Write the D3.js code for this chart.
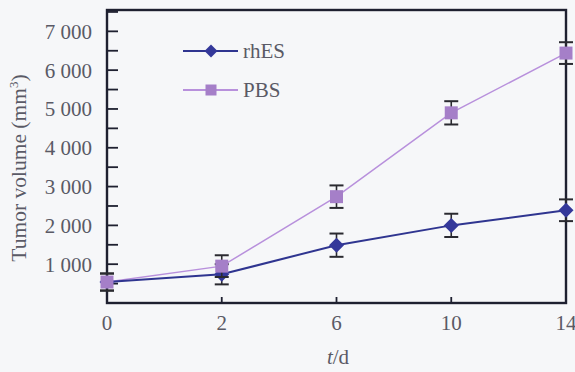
<!DOCTYPE html>
<html><head><meta charset="utf-8">
<script src="https://cdn.jsdelivr.net/npm/d3@7"></script>
<style>html,body{margin:0;padding:0;background:#f6f7f9;}svg{display:block;}</style>
</head><body>
<svg id="c" width="575" height="372"></svg>
<script>
const days = ["0","2","6","10","14"];
const rhES = [540, 740, 1490, 2000, 2390];
const rhESErr = [220, 260, 300, 300, 280];
const pbs = [540, 950, 2740, 4900, 6440];
const pbsErr = [220, 280, 290, 300, 280];
const yTickLabels = [1000,2000,3000,4000,5000,6000,7000];

const svg = d3.select("#c");
const L=107, R=566, T=10, B=303;
const x = d3.scalePoint().domain(days).range([L,R]).padding(0);
const y = d3.scaleLinear().domain([0,7550]).range([B,T]);
const frame="#1e2030", txt="#5a5a66";
const font="Liberation Serif, DejaVu Serif, serif";
const fs=21;

// y ticks (inward)
const yt = d3.range(500, 7501, 500);
svg.append("g").selectAll("line").data(yt).join("line")
  .attr("x1",L).attr("x2",L+11).attr("y1",d=>y(d)).attr("y2",d=>y(d))
  .attr("stroke",frame).attr("stroke-width",1.8);
svg.append("g").selectAll("text").data(yTickLabels).join("text")
  .attr("x",92).attr("y",d=>y(d)).attr("dy","0.35em").attr("text-anchor","end")
  .attr("font-family",font).attr("font-size",fs).attr("fill",txt)
  .text(d=>d3.format(",")(d).replace(","," "));
// x ticks
svg.append("g").selectAll("line").data(days).join("line")
  .attr("x1",d=>x(d)).attr("x2",d=>x(d)).attr("y1",B).attr("y2",B-6)
  .attr("stroke",frame).attr("stroke-width",1.8);
svg.append("g").selectAll("text").data(days).join("text")
  .attr("x",d=>x(d)).attr("y",323).attr("dy","0.35em").attr("text-anchor","middle")
  .attr("font-family",font).attr("font-size",fs).attr("fill",txt).text(d=>d);

// frame
svg.append("rect").attr("x",L).attr("y",T).attr("width",R-L).attr("height",B-T)
  .attr("fill","none").attr("stroke",frame).attr("stroke-width",2.4);

// axis titles
svg.append("text").attr("transform","translate(18,168) rotate(-90)").attr("text-anchor","middle")
  .attr("dy","0.35em")
  .attr("font-family",font).attr("font-size",21.5).attr("fill",txt)
  .html('Tumor volume (mm<tspan dy="-8" font-size="13">3</tspan><tspan dy="8">)</tspan>');
svg.append("text").attr("x",338).attr("y",357).attr("dy","0.35em").attr("text-anchor","middle")
  .attr("font-family",font).attr("font-size",fs).attr("fill",txt)
  .html('<tspan font-style="italic">t</tspan>/d');

const diamond = s => `M0,${-s}L${s},0L0,${s}L${-s},0Z`;
const square = s => `M${-s},${-s}H${s}V${s}H${-s}Z`;
const series = [
  {name:"rhES", vals:rhES, err:rhESErr, line:"#2f3590", fill:"#34389a", shape:"diamond", lw:2},
  {name:"PBS", vals:pbs, err:pbsErr, line:"#b890dc", fill:"#a57fc8", shape:"square", lw:1.5}
];
const lineGen = d3.line().x((d,i)=>x(days[i])).y(d=>y(d));
const gl = svg.append("g"), gm = svg.append("g");
[series[1], series[0]].forEach(s=>{
  gl.append("path").attr("d",lineGen(s.vals)).attr("fill","none").attr("stroke",s.line).attr("stroke-width",s.lw);
});
series.forEach(s=>{
  const g = gm.append("g");
  s.vals.forEach((v,i)=>{
    const cx=x(days[i]);
    g.append("line").attr("x1",cx).attr("x2",cx).attr("y1",y(v+s.err[i])).attr("y2",y(v-s.err[i]))
      .attr("stroke","#2a2a30").attr("stroke-width",1.6);
    [v+s.err[i], v-s.err[i]].forEach(e=>g.append("line").attr("x1",cx-7).attr("x2",cx+7)
      .attr("y1",y(e)).attr("y2",y(e)).attr("stroke","#2a2a30").attr("stroke-width",2));
  });
  g.selectAll("path.m").data(s.vals).join("path").attr("class","m")
    .attr("transform",(d,i)=>`translate(${x(days[i])},${y(d)})`)
    .attr("d",s.shape==="square"?square(6.5):diamond(7.5)).attr("fill",s.fill);
});

// legend
const leg=[{name:"rhES",line:"#2f3590",fill:"#34389a",shape:"diamond",yy:51},
           {name:"PBS",line:"#b890dc",fill:"#a57fc8",shape:"square",yy:90}];
leg.forEach(l=>{
  svg.append("line").attr("x1",183).attr("x2",238).attr("y1",l.yy).attr("y2",l.yy)
    .attr("stroke",l.line).attr("stroke-width",2);
  svg.append("path").attr("transform",`translate(211,${l.yy})`)
    .attr("d",l.shape==="square"?square(5.5):diamond(6.5)).attr("fill",l.fill);
  svg.append("text").attr("x",243).attr("y",l.yy).attr("dy","0.35em")
    .attr("font-family",font).attr("font-size",fs).attr("fill",txt).text(l.name);
});
</script>
</body></html>
